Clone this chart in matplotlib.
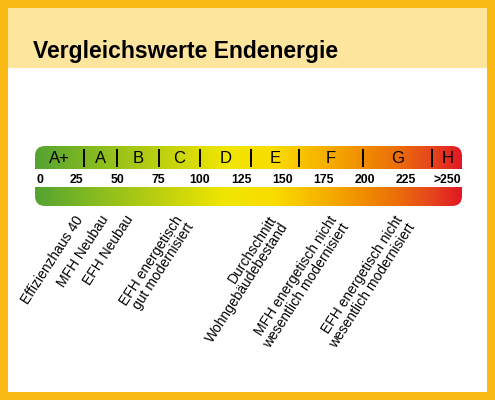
import numpy as np
import matplotlib
matplotlib.use("Agg")
import matplotlib.pyplot as plt
from matplotlib.colors import LinearSegmentedColormap
from matplotlib.patches import FancyBboxPatch, Rectangle

plt.rcParams["font.family"] = ["Liberation Sans", "DejaVu Sans"]

# ---------------- data ----------------
title = "Vergleichswerte Endenergie"
class_labels = ["A+", "A", "B", "C", "D", "E", "F", "G", "H"]
class_bounds = [0, 30, 50, 75, 100, 131, 160, 199, 241, 259]
tick_values = [0, 25, 50, 75, 100, 125, 150, 175, 200, 225, 250]
tick_labels = ["0", "25", "50", "75", "100", "125", "150", "175", "200", "225", ">250"]
ref_labels = [
    "Effizienzhaus 40",
    "MFH Neubau",
    "EFH Neubau",
    "EFH energetisch\ngut modernisiert",
    "Durchschnitt\nWohngebäudebestand",
    "MFH energetisch nicht\nwesentlich modernisiert",
    "EFH energetisch nicht\nwesentlich modernisiert",
]
ref_values = [24, 39, 54, 84, 141, 178, 218]

grad_pos = [0, 40, 62, 88, 115, 145, 180, 200, 220, 241, 259]
grad_colors = ["#55A332", "#8CBE1E", "#AAC814", "#CDD70A", "#F0E600", "#FADC00",
               "#F5AA00", "#F08C00", "#EB6E0A", "#E6461E", "#E11923"]

border_color = "#FBB914"
header_color = "#FEE59D"

# ---------------- figure ----------------
W, H = 495, 400
fig = plt.figure(figsize=(W / 100, H / 100), dpi=100)


def px_rect(x0, y0, x1, y1, color):
    fig.patches.append(Rectangle((x0 / W, 1 - y1 / H), (x1 - x0) / W, (y1 - y0) / H,
                                 transform=fig.transFigure, facecolor=color,
                                 edgecolor="none", zorder=-5))


px_rect(0, 0, W, H, border_color)
px_rect(8, 8, 487, 392, "white")
px_rect(8, 8, 487, 68, header_color)

fig.text(33 / W, 1 - 58 / H, title, fontsize=16.5, fontweight="bold",
         ha="left", va="baseline")

# scale axes: x in kWh, y in pixel rows
x_min, x_max = class_bounds[0], class_bounds[-1]
ax = fig.add_axes([35 / W, 1 - 212 / H, 427 / W, 72 / H])
ax.set_xlim(x_min, x_max)
ax.set_ylim(212, 140)
ax.axis("off")

band_top, band_bot = 146, 206
strip_top, strip_bot = 169, 187

xunit_px = 427 / (x_max - x_min)
radius_px = 10
shape = FancyBboxPatch((x_min, band_top), x_max - x_min, band_bot - band_top,
                       boxstyle="round,pad=0,rounding_size=%f" % (radius_px / xunit_px),
                       mutation_aspect=xunit_px, facecolor="none", edgecolor="none",
                       transform=ax.transData)
ax.add_patch(shape)

cmap = LinearSegmentedColormap.from_list(
    "energy", list(zip(np.array(grad_pos) / x_max, grad_colors)))
xs = np.linspace(x_min, x_max, 800)
im = ax.imshow(xs[None, :], extent=(x_min, x_max, band_bot, band_top),
               aspect="auto", cmap=cmap, vmin=x_min, vmax=x_max,
               interpolation="bilinear")
im.set_clip_path(shape)

ax.add_patch(Rectangle((x_min, strip_top), x_max - x_min, strip_bot - strip_top,
                       facecolor="white", edgecolor="none", zorder=3))

ax.vlines(class_bounds[1:-1], 148.5, 166.5, color="black", lw=1.4, zorder=4)

for lab, a, b in zip(class_labels, class_bounds[:-1], class_bounds[1:]):
    ax.text((a + b) / 2, 158, lab, ha="center", va="center", fontsize=12, zorder=5)

for i, (v, lab) in enumerate(zip(tick_values, tick_labels)):
    ax.text(v + (0.8 if i == 0 else 0), 179.5, lab, ha="left" if i == 0 else "center",
            va="center", fontsize=8.8, fontweight="bold", zorder=5)

for v, lab in zip(ref_values, ref_labels):
    ax.text(v, 213, lab, rotation=57, rotation_mode="anchor", ha="right", va="top",
            fontsize=10, linespacing=1.0, clip_on=False)

fig.savefig("out.png", dpi=100)
